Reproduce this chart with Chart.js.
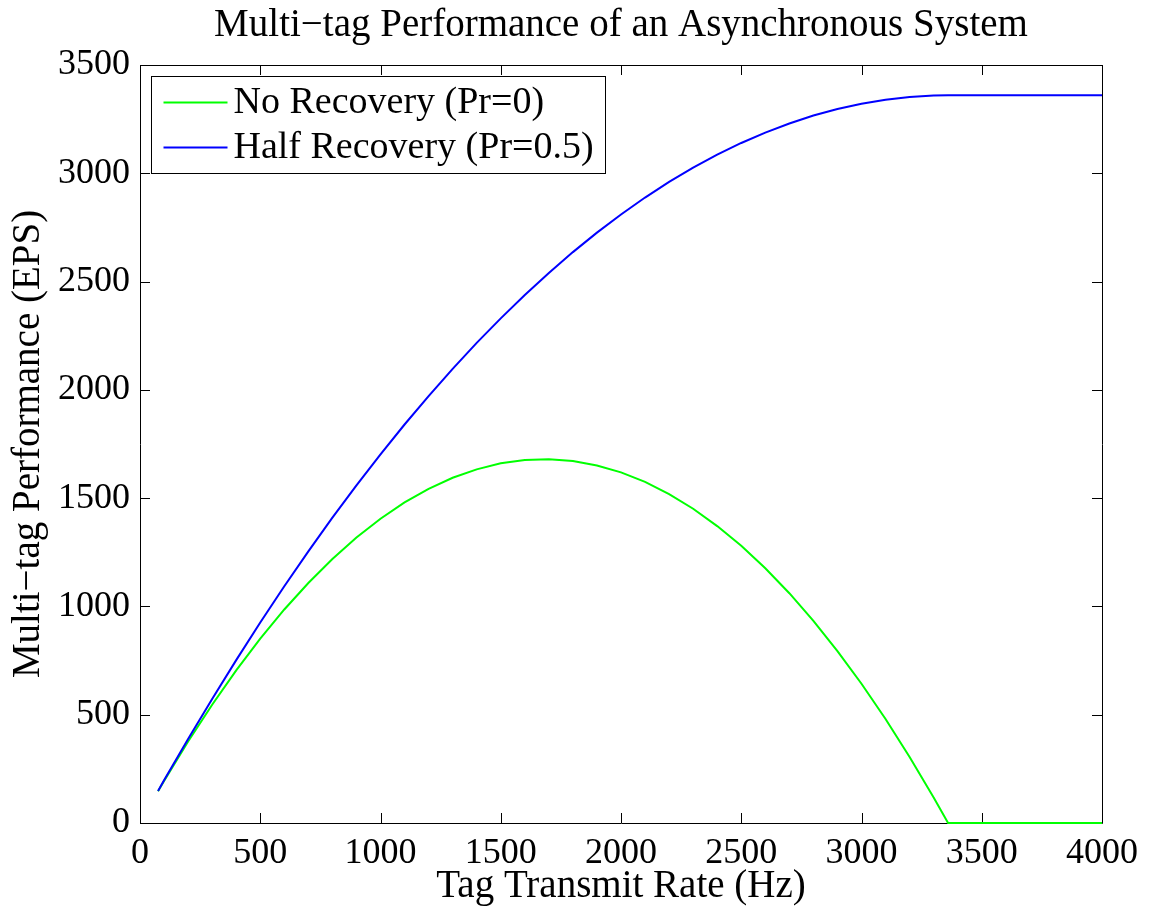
<!DOCTYPE html>
<html>
<head>
<meta charset="utf-8">
<title>Multi-tag Performance</title>
<script src="https://cdn.jsdelivr.net/npm/chart.js@4/dist/chart.umd.min.js"></script>
<style>
    html, body { margin: 0; padding: 0; background: #fff; }
    canvas { display: block; }
</style>
</head>
<body>
<canvas id="perfChart" width="1155" height="914"></canvas>
<script>
// Tag transmit rate samples (Hz)
const rates = [75, 100, 200, 300, 400, 500, 600, 700, 800, 900, 1000, 1100, 1200, 1300, 1400, 1500,
    1600, 1700, 1800, 1900, 2000, 2100, 2200, 2300, 2400, 2500, 2600, 2700, 2800, 2900, 3000,
    3100, 3200, 3300, 3360, 3400, 3500, 3600, 3700, 3800, 3900, 4000];

// Events per second, no recovery (Pr=0)
const noRecovery = [147, 194, 376, 546, 705, 851, 986, 1108, 1219, 1318, 1405, 1480, 1543, 1594, 1633, 1661,
    1676, 1680, 1671, 1651, 1619, 1575, 1519, 1451, 1371, 1280, 1176, 1061, 933, 794, 643,
    480, 305, 118, 0, 0, 0, 0, 0, 0, 0, 0];

// Events per second, half recovery (Pr=0.5)
const halfRecovery = [148, 197, 388, 573, 752, 926, 1093, 1254, 1410, 1559, 1702, 1840, 1971, 2097, 2217, 2330,
    2438, 2540, 2636, 2726, 2810, 2888, 2960, 3026, 3086, 3140, 3188, 3230, 3267, 3297, 3321,
    3340, 3352, 3359, 3360, 3360, 3360, 3360, 3360, 3360, 3360, 3360];

const xTicks = [0, 500, 1000, 1500, 2000, 2500, 3000, 3500, 4000];
const yTicks = [0, 500, 1000, 1500, 2000, 2500, 3000, 3500];

const seriesLabels = ['No Recovery (Pr=0)', 'Half Recovery (Pr=0.5)'];
const seriesColors = ['#00ff00', '#0000ff'];

const FONT = '"Liberation Serif", "Times New Roman", serif';

function toPoints(values) {
    return values.map((v, i) => ({ x: rates[i], y: v }));
}

// Box around the plot with inward tick marks on all four sides
const framePlugin = {
    id: 'frame',
    beforeDatasetsDraw(chart) {
        const { ctx, chartArea: a, scales } = chart;
        const len = 10;
        ctx.save();
        ctx.strokeStyle = '#000';
        ctx.lineWidth = 1;
        ctx.beginPath();
        ctx.rect(Math.round(a.left) + 0.5, Math.round(a.top) + 0.5,
            Math.round(a.right - a.left), Math.round(a.bottom - a.top));
        xTicks.forEach(t => {
            const x = Math.round(scales.x.getPixelForValue(t)) + 0.5;
            ctx.moveTo(x, a.bottom);
            ctx.lineTo(x, a.bottom - len);
            ctx.moveTo(x, a.top);
            ctx.lineTo(x, a.top + len);
        });
        yTicks.forEach(t => {
            const y = Math.round(scales.y.getPixelForValue(t)) + 0.5;
            ctx.moveTo(a.left, y);
            ctx.lineTo(a.left + len, y);
            ctx.moveTo(a.right, y);
            ctx.lineTo(a.right - len, y);
        });
        ctx.stroke();
        ctx.restore();
    }
};

// Boxed legend in the upper left of the plot
const boxLegendPlugin = {
    id: 'boxLegend',
    afterDraw(chart) {
        const { ctx, chartArea: a } = chart;
        ctx.save();
        ctx.font = '38px ' + FONT;
        const textW = Math.max(...seriesLabels.map(s => ctx.measureText(s).width));
        const left = Math.round(a.left) + 11.5;
        const top = Math.round(a.top) + 11.5;
        const w = Math.round(82 + textW + 12);
        const h = 97;
        ctx.fillStyle = '#fff';
        ctx.fillRect(left, top, w, h);
        ctx.strokeStyle = '#000';
        ctx.lineWidth = 1;
        ctx.strokeRect(left, top, w, h);
        ctx.textBaseline = 'middle';
        ctx.textAlign = 'left';
        seriesLabels.forEach((label, i) => {
            const y = top + 26 + i * 45;
            ctx.strokeStyle = seriesColors[i];
            ctx.lineWidth = 2;
            ctx.beginPath();
            ctx.moveTo(left + 12, y);
            ctx.lineTo(left + 76, y);
            ctx.stroke();
            ctx.fillStyle = '#000';
            ctx.fillText(label, left + 82, y + 1);
        });
        ctx.restore();
    }
};

new Chart(document.getElementById('perfChart'), {
    type: 'line',
    data: {
        datasets: [
            {
                label: seriesLabels[0],
                data: toPoints(noRecovery),
                borderColor: seriesColors[0],
                borderWidth: 2,
                pointRadius: 0,
                tension: 0,
                clip: false,
                order: 1
            },
            {
                label: seriesLabels[1],
                data: toPoints(halfRecovery),
                borderColor: seriesColors[1],
                borderWidth: 2,
                pointRadius: 0,
                tension: 0,
                clip: false,
                order: 0
            }
        ]
    },
    options: {
        responsive: false,
        animation: false,
        layout: {
            padding: { left: 0, right: 53, top: 0, bottom: 0 }
        },
        plugins: {
            legend: { display: false },
            tooltip: { enabled: false },
            title: {
                display: true,
                fullSize: false,
                text: 'Multi\u2212tag Performance of an Asynchronous System',
                color: '#000',
                font: { family: FONT, size: 39, weight: 'normal' },
                padding: { top: 2, bottom: 16.2 }
            }
        },
        scales: {
            x: {
                type: 'linear',
                min: 0,
                max: 4000,
                afterFit: s => { s.height = 91; },
                afterBuildTicks: s => { s.ticks = xTicks.map(v => ({ value: v })); },
                grid: { display: false, drawTicks: false },
                border: { display: false },
                ticks: {
                    color: '#000',
                    padding: 9,
                    maxRotation: 0,
                    font: { family: FONT, size: 36 },
                    callback: v => String(v)
                },
                title: {
                    display: true,
                    text: 'Tag Transmit Rate (Hz)',
                    color: '#000',
                    font: { family: FONT, size: 39 },
                    padding: { top: 0, bottom: 4 }
                }
            },
            y: {
                min: 0,
                max: 3500,
                afterFit: s => { s.width = 140; },
                afterBuildTicks: s => { s.ticks = yTicks.map(v => ({ value: v })); },
                grid: { display: false, drawTicks: false },
                border: { display: false },
                ticks: {
                    color: '#000',
                    padding: 10,
                    font: { family: FONT, size: 36 },
                    callback: v => String(v)
                },
                title: {
                    display: true,
                    text: 'Multi\u2212tag Performance (EPS)',
                    color: '#000',
                    font: { family: FONT, size: 39 },
                    padding: { top: 5, bottom: 0 }
                }
            }
        }
    },
    plugins: [framePlugin, boxLegendPlugin]
});
</script>
</body>
</html>
